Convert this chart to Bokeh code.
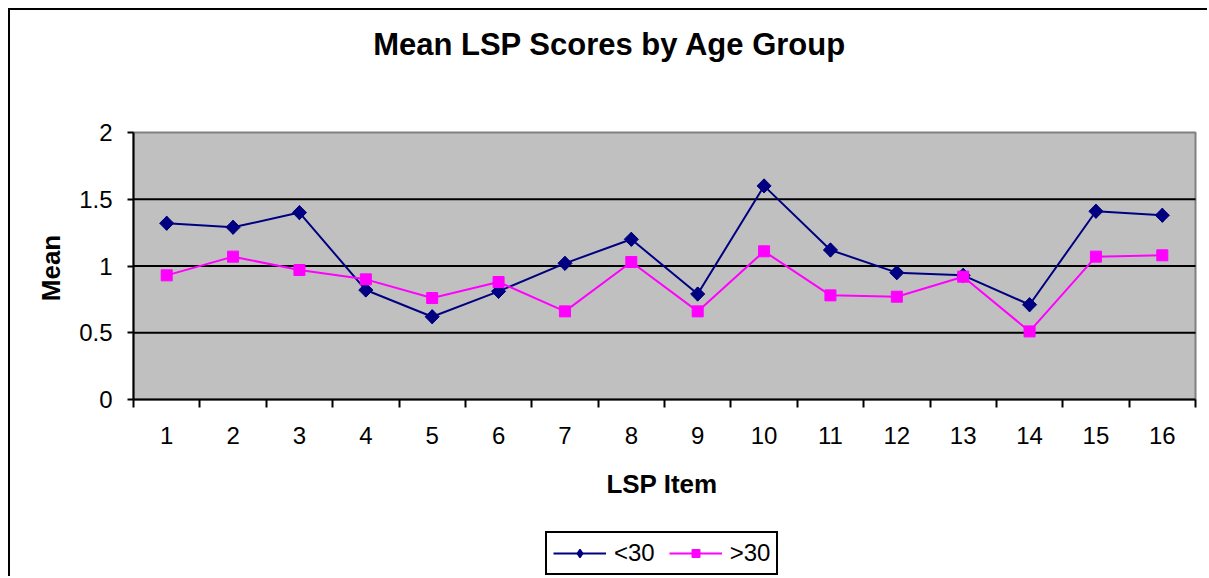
import numpy as np
from bokeh.plotting import figure
from bokeh.models import (FixedTicker, Legend, LegendItem, Label, ColumnDataSource, BoxAnnotation)
from bokeh.embed import file_html
from bokeh.resources import INLINE

items = list(range(1, 17))
item_labels = [str(i) for i in items]
under30 = [1.32, 1.29, 1.40, 0.82, 0.62, 0.81, 1.02, 1.20, 0.79, 1.60, 1.12, 0.95, 0.93, 0.71, 1.41, 1.38]
over30 = [0.93, 1.07, 0.97, 0.90, 0.76, 0.88, 0.66, 1.03, 0.66, 1.11, 0.78, 0.77, 0.92, 0.51, 1.07, 1.08]
y_ticks = [0, 0.5, 1, 1.5, 2]
y_tick_labels = ["0", "0.5", "1", "1.5", "2"]
grid_values = [0.5, 1, 1.5]
series_names = ["<30", ">30"]
title_text = "Mean LSP Scores by Age Group"
x_title = "LSP Item"
y_title = "Mean"

FONT = "Liberation Sans"
W, H = 1199, 568
X_MIN, X_MAX = items[0] - 0.5, items[-1] + 0.5
Y_MIN, Y_MAX = y_ticks[0], y_ticks[-1]

# The frame covers the whole canvas so that titles and legend (frame annotations) are not clipped.
# Plot area in canvas pixels: left 123, right 1185, top 122, bottom 389.
PL, PR, PT, PB = 123, 1185, 122, 389
sx = (PR - PL) / (X_MAX - X_MIN)
sy = (PB - PT) / (Y_MAX - Y_MIN)
x_range = (X_MIN - PL / sx, X_MAX + (W - PR) / sx)
y_range = (Y_MIN - (H - PB) / sy, Y_MAX + PT / sy)

p = figure(width=W, height=H, output_backend="svg", toolbar_location=None,
           x_range=x_range, y_range=y_range,
           min_border_left=0, min_border_right=0, min_border_top=0, min_border_bottom=0)
p.styles = {"margin-left": "8px", "margin-top": "8px",
            "border-left": "2px solid black", "border-top": "2px solid black"}
p.background_fill_color = "white"
p.border_fill_color = "white"
p.outline_line_color = None
p.grid.visible = False

# grey plotting area
p.add_layout(BoxAnnotation(left=X_MIN, right=X_MAX, bottom=Y_MIN, top=Y_MAX,
                           fill_color="#C0C0C0", fill_alpha=1,
                           line_color="#808080", line_width=2, line_alpha=1, level="image"))

# horizontal gridlines
p.segment(x0=[X_MIN] * len(grid_values), x1=[X_MAX] * len(grid_values),
          y0=grid_values, y1=grid_values, line_color="black", line_width=2)

# x axis drawn at y = 0
xa = p.xaxis[0]
xa.fixed_location = Y_MIN
xa.bounds = (X_MIN, X_MAX)
xa.ticker = FixedTicker(ticks=items, minor_ticks=[i - 0.5 for i in items] + [X_MAX])
xa.major_label_overrides = {i: l for i, l in zip(items, item_labels)}
xa.major_tick_out = 0
xa.major_tick_in = 0
xa.minor_tick_out = 8
xa.minor_tick_in = 0
xa.minor_tick_line_color = "black"
xa.minor_tick_line_width = 2
xa.axis_line_color = "black"
xa.axis_line_width = 2
xa.major_label_text_font = FONT
xa.major_label_text_font_size = "24px"
xa.major_label_text_color = "black"
xa.major_label_standoff = 19

ya = p.yaxis[0]
ya.fixed_location = X_MIN
ya.bounds = (Y_MIN, Y_MAX)
ya.ticker = FixedTicker(ticks=y_ticks)
ya.major_label_overrides = {t: l for t, l in zip(y_ticks, y_tick_labels)}
ya.major_tick_out = 6
ya.major_tick_in = 0
ya.major_tick_line_width = 2
ya.major_tick_line_color = "black"
ya.minor_tick_line_color = None
ya.axis_line_color = "black"
ya.axis_line_width = 2
ya.major_label_text_font = FONT
ya.major_label_text_font_size = "24px"
ya.major_label_text_color = "black"
ya.major_label_standoff = 15

src = ColumnDataSource(dict(x=items, a=under30, b=over30))
l1 = p.line("x", "a", source=src, line_color="#000080", line_width=2)
# diamond used for the legend glyph (hidden below the rotated squares in the plot)
m1_leg = p.scatter("x", "a", source=src, marker="diamond", size=13,
                   fill_color="#000080", line_color="#000080", line_width=1.5)
m1 = p.scatter("x", "a", source=src, marker="square", angle=np.pi / 4, size=10,
               fill_color="#000080", line_color="#000080")
l2 = p.line("x", "b", source=src, line_color="#FF00FF", line_width=2)
m2 = p.scatter("x", "b", source=src, marker="square", size=11,
               fill_color="#FF00FF", line_color="#FF00FF")

legend = Legend(items=[LegendItem(label=series_names[0], renderers=[l1, m1_leg]),
                       LegendItem(label=series_names[1], renderers=[l2, m2])],
                orientation="horizontal", location=(535, 3),
                border_line_color="black", border_line_width=2, border_line_alpha=1,
                background_fill_color="white", background_fill_alpha=1,
                label_text_font=FONT, label_text_font_size="24px", label_text_color="black",
                label_standoff=8, glyph_width=53, glyph_height=20,
                spacing=14, padding=6, margin=0)
p.add_layout(legend, "center")

p.add_layout(Label(x=599.5, y=534, x_units="screen", y_units="screen", text=title_text,
                   text_font=FONT, text_font_size="31px", text_font_style="bold",
                   text_color="black", text_align="center", text_baseline="middle"))
p.add_layout(Label(x=40, y=310.5, x_units="screen", y_units="screen", text=y_title,
                   angle=np.pi / 2, text_font=FONT, text_font_size="26px", text_font_style="bold",
                   text_color="black", text_align="center", text_baseline="middle"))
p.add_layout(Label(x=651.5, y=94.5, x_units="screen", y_units="screen", text=x_title,
                   text_font=FONT, text_font_size="26px", text_font_style="bold",
                   text_color="black", text_align="center", text_baseline="middle"))

open("out.html", "w").write(file_html(p, INLINE))
